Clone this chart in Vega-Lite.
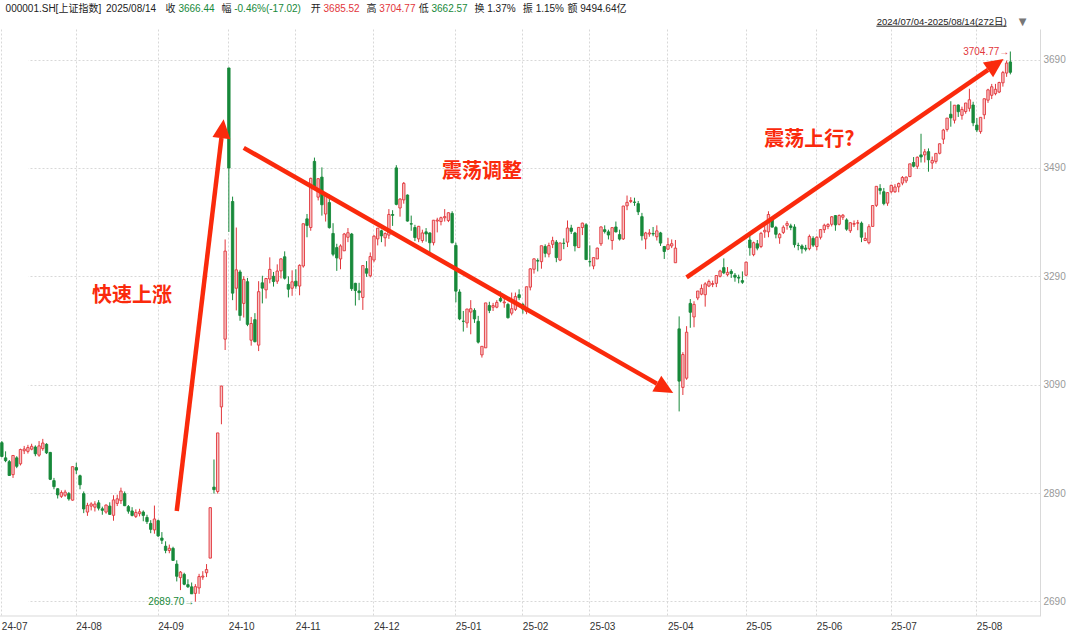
{
"$schema":"https://vega.github.io/schema/vega-lite/v6.json",
"width":1040,"height":587,
"autosize":{"type":"none"},
"padding":{"left":0,"top":29,"right":40,"bottom":14},
"background":"#ffffff",
"config":{"font":"Liberation Sans, Noto Sans CJK SC, sans-serif","view":{"stroke":null}},
"datasets":{
"k":[
{"d":"2024-07-04","o":2983,"h":2986,"l":2956,"c":2957.6},{"d":"2024-07-05","o":2955,"h":2967,"l":2947,"c":2949.9},{"d":"2024-07-08","o":2948,"h":2951,"l":2922,"c":2922.5},{"d":"2024-07-09","o":2924,"h":2960,"l":2918,"c":2959.4},{"d":"2024-07-10","o":2955,"h":2958,"l":2936,"c":2939.4},{"d":"2024-07-11","o":2944,"h":2972,"l":2941,"c":2970.4},{"d":"2024-07-12","o":2968,"h":2977,"l":2962,"c":2971.3},{"d":"2024-07-15","o":2967,"h":2979,"l":2963,"c":2974.0},{"d":"2024-07-16","o":2971,"h":2981,"l":2969,"c":2976.3},{"d":"2024-07-17","o":2975,"h":2978,"l":2958,"c":2962.5},{"d":"2024-07-18","o":2960,"h":2986,"l":2957,"c":2977.1},{"d":"2024-07-19","o":2972,"h":2990,"l":2968,"c":2982.3},{"d":"2024-07-22","o":2980,"h":2982,"l":2962,"c":2964.2},{"d":"2024-07-23","o":2965,"h":2966,"l":2914,"c":2915.4},{"d":"2024-07-24","o":2913,"h":2918,"l":2897,"c":2901.9},{"d":"2024-07-25","o":2898,"h":2899,"l":2880,"c":2886.7},{"d":"2024-07-26","o":2884,"h":2895,"l":2881,"c":2890.9},{"d":"2024-07-29","o":2886,"h":2896,"l":2883,"c":2891.8},{"d":"2024-07-30","o":2889,"h":2892,"l":2876,"c":2879.3},{"d":"2024-07-31","o":2877,"h":2939,"l":2876,"c":2938.8},
{"d":"2024-08-01","o":2937,"h":2946,"l":2925,"c":2932.4},{"d":"2024-08-02","o":2922,"h":2924,"l":2897,"c":2905.3},{"d":"2024-08-05","o":2889,"h":2893,"l":2853,"c":2860.7},{"d":"2024-08-06","o":2855,"h":2872,"l":2848,"c":2867.3},{"d":"2024-08-07","o":2866,"h":2873,"l":2858,"c":2869.9},{"d":"2024-08-08","o":2864,"h":2875,"l":2856,"c":2869.8},{"d":"2024-08-09","o":2872,"h":2877,"l":2858,"c":2862.2},{"d":"2024-08-12","o":2861,"h":2865,"l":2850,"c":2858.2},{"d":"2024-08-13","o":2855,"h":2869,"l":2852,"c":2867.9},{"d":"2024-08-14","o":2866,"h":2873,"l":2850,"c":2850.7},{"d":"2024-08-15","o":2849,"h":2886,"l":2839,"c":2877.4},{"d":"2024-08-16","o":2871,"h":2887,"l":2866,"c":2879.4},{"d":"2024-08-19","o":2876,"h":2900,"l":2870,"c":2893.7},{"d":"2024-08-20","o":2889,"h":2893,"l":2866,"c":2866.7},{"d":"2024-08-21","o":2865,"h":2868,"l":2852,"c":2856.6},{"d":"2024-08-22","o":2857,"h":2864,"l":2847,"c":2848.8},{"d":"2024-08-23","o":2847,"h":2860,"l":2844,"c":2854.4},{"d":"2024-08-26","o":2852,"h":2861,"l":2847,"c":2855.5},{"d":"2024-08-27","o":2855,"h":2858,"l":2838,"c":2848.8},{"d":"2024-08-28","o":2845,"h":2850,"l":2833,"c":2837.4},{"d":"2024-08-29","o":2834,"h":2840,"l":2816,"c":2823.1},{"d":"2024-08-30","o":2822,"h":2867,"l":2815,"c":2842.2},
{"d":"2024-09-02","o":2839,"h":2841,"l":2809,"c":2811.0},{"d":"2024-09-03","o":2807,"h":2818,"l":2796,"c":2802.9},{"d":"2024-09-04","o":2792,"h":2801,"l":2779,"c":2784.3},{"d":"2024-09-05","o":2784,"h":2795,"l":2779,"c":2788.2},{"d":"2024-09-06","o":2788,"h":2791,"l":2765,"c":2765.8},{"d":"2024-09-09","o":2759,"h":2766,"l":2727,"c":2736.5},{"d":"2024-09-10","o":2734,"h":2746,"l":2711,"c":2744.2},{"d":"2024-09-11","o":2740,"h":2743,"l":2720,"c":2721.8},{"d":"2024-09-12","o":2721,"h":2731,"l":2715,"c":2717.1},{"d":"2024-09-13","o":2717,"h":2725,"l":2704,"c":2704.1},{"d":"2024-09-18","o":2705,"h":2722,"l":2689.7,"c":2717.3},{"d":"2024-09-19","o":2715,"h":2741,"l":2704,"c":2736.0},{"d":"2024-09-20","o":2735,"h":2746,"l":2730,"c":2736.8},{"d":"2024-09-23","o":2743,"h":2759,"l":2735,"c":2748.9},{"d":"2024-09-24","o":2770,"h":2864,"l":2770,"c":2863.1},{"d":"2024-09-25","o":2901,"h":2952,"l":2889,"c":2896.3},{"d":"2024-09-26","o":2893,"h":3001,"l":2889,"c":3000.95},{"d":"2024-09-27","o":3049,"h":3088,"l":3017,"c":3087.5},{"d":"2024-09-30","o":3174,"h":3358,"l":3154,"c":3336.5},
{"d":"2024-10-08","o":3674.4,"h":3674.4,"l":3371.8,"c":3489.8},{"d":"2024-10-09","o":3428,"h":3437,"l":3246,"c":3258.9},{"d":"2024-10-10","o":3268,"h":3380,"l":3227,"c":3301.9},{"d":"2024-10-11","o":3298,"h":3302,"l":3208,"c":3217.7},{"d":"2024-10-14","o":3240,"h":3290,"l":3214,"c":3284.3},{"d":"2024-10-15","o":3280,"h":3287,"l":3198,"c":3201.3},{"d":"2024-10-16","o":3172,"h":3215,"l":3162,"c":3202.9},{"d":"2024-10-17","o":3210,"h":3222,"l":3168,"c":3169.4},{"d":"2024-10-18","o":3163,"h":3281,"l":3152,"c":3261.6},{"d":"2024-10-21","o":3278,"h":3291,"l":3240,"c":3268.1},{"d":"2024-10-22","o":3265,"h":3287,"l":3249,"c":3285.9},{"d":"2024-10-23","o":3285,"h":3325,"l":3277,"c":3302.8},{"d":"2024-10-24","o":3290,"h":3298,"l":3271,"c":3280.3},{"d":"2024-10-25","o":3281,"h":3312,"l":3276,"c":3299.7},{"d":"2024-10-28","o":3300,"h":3323,"l":3286,"c":3322.2},{"d":"2024-10-29","o":3326,"h":3336,"l":3284,"c":3286.4},{"d":"2024-10-30","o":3275,"h":3290,"l":3251,"c":3266.2},{"d":"2024-10-31","o":3268,"h":3301,"l":3254,"c":3279.8},
{"d":"2024-11-01","o":3281,"h":3303,"l":3267,"c":3272.0},{"d":"2024-11-04","o":3272,"h":3312,"l":3255,"c":3310.2},{"d":"2024-11-05","o":3309,"h":3387,"l":3306,"c":3387.0},{"d":"2024-11-06","o":3396,"h":3405,"l":3362,"c":3383.8},{"d":"2024-11-07","o":3380,"h":3472,"l":3374,"c":3470.7},{"d":"2024-11-08","o":3502,"h":3509,"l":3450,"c":3452.3},{"d":"2024-11-11","o":3436,"h":3471,"l":3430,"c":3470.1},{"d":"2024-11-12","o":3473,"h":3491,"l":3402,"c":3422.0},{"d":"2024-11-13","o":3405,"h":3441,"l":3391,"c":3439.3},{"d":"2024-11-14","o":3426,"h":3441,"l":3378,"c":3379.8},{"d":"2024-11-15","o":3369,"h":3388,"l":3327,"c":3330.7},{"d":"2024-11-18","o":3343,"h":3350,"l":3300,"c":3323.9},{"d":"2024-11-19","o":3322,"h":3349,"l":3303,"c":3346.0},{"d":"2024-11-20","o":3337,"h":3370,"l":3337,"c":3368.0},{"d":"2024-11-21","o":3362,"h":3379,"l":3353,"c":3370.4},{"d":"2024-11-22","o":3368,"h":3370,"l":3263,"c":3267.2},{"d":"2024-11-25","o":3277,"h":3278,"l":3236,"c":3263.8},{"d":"2024-11-26","o":3263,"h":3278,"l":3246,"c":3259.8},{"d":"2024-11-27","o":3251,"h":3309,"l":3228,"c":3309.8},{"d":"2024-11-28","o":3304,"h":3318,"l":3289,"c":3295.7},{"d":"2024-11-29","o":3291,"h":3334,"l":3288,"c":3326.5},
{"d":"2024-12-02","o":3320,"h":3366,"l":3316,"c":3364.0},{"d":"2024-12-03","o":3359,"h":3379,"l":3347,"c":3378.8},{"d":"2024-12-04","o":3374,"h":3376,"l":3353,"c":3364.6},{"d":"2024-12-05","o":3361,"h":3371,"l":3345,"c":3368.9},{"d":"2024-12-06","o":3366,"h":3414,"l":3359,"c":3404.1},{"d":"2024-12-09","o":3404,"h":3412,"l":3383,"c":3402.5},{"d":"2024-12-10","o":3490,"h":3495,"l":3421,"c":3422.7},{"d":"2024-12-11","o":3416,"h":3434,"l":3400,"c":3432.5},{"d":"2024-12-12","o":3431,"h":3464,"l":3424,"c":3461.5},{"d":"2024-12-13","o":3440,"h":3441,"l":3391,"c":3391.9},{"d":"2024-12-16","o":3387,"h":3402,"l":3374,"c":3386.3},{"d":"2024-12-17","o":3380,"h":3385,"l":3355,"c":3361.5},{"d":"2024-12-18","o":3359,"h":3383,"l":3353,"c":3382.2},{"d":"2024-12-19","o":3356,"h":3376,"l":3352,"c":3370.0},{"d":"2024-12-20","o":3372,"h":3379,"l":3354,"c":3368.1},{"d":"2024-12-23","o":3370,"h":3371,"l":3330,"c":3351.9},{"d":"2024-12-24","o":3352,"h":3394,"l":3347,"c":3393.5},{"d":"2024-12-25","o":3392,"h":3398,"l":3371,"c":3393.8},{"d":"2024-12-26","o":3391,"h":3400,"l":3384,"c":3398.1},{"d":"2024-12-27","o":3398,"h":3414,"l":3391,"c":3400.1},{"d":"2024-12-30","o":3393,"h":3408,"l":3390,"c":3407.3},{"d":"2024-12-31","o":3406,"h":3410,"l":3351,"c":3351.8},
{"d":"2025-01-02","o":3347,"h":3352,"l":3242,"c":3262.6},{"d":"2025-01-03","o":3261,"h":3266,"l":3209,"c":3211.4},{"d":"2025-01-06","o":3207,"h":3226,"l":3188,"c":3206.9},{"d":"2025-01-07","o":3204,"h":3230,"l":3195,"c":3229.6},{"d":"2025-01-08","o":3224,"h":3246,"l":3183,"c":3230.2},{"d":"2025-01-09","o":3227,"h":3231,"l":3204,"c":3211.4},{"d":"2025-01-10","o":3207,"h":3217,"l":3166,"c":3168.5},{"d":"2025-01-13","o":3145,"h":3161,"l":3140,"c":3160.8},{"d":"2025-01-14","o":3158,"h":3241,"l":3158,"c":3240.9},{"d":"2025-01-15","o":3236,"h":3243,"l":3222,"c":3227.1},{"d":"2025-01-16","o":3233,"h":3241,"l":3226,"c":3236.0},{"d":"2025-01-17","o":3233,"h":3246,"l":3231,"c":3241.8},{"d":"2025-01-20","o":3249,"h":3262,"l":3242,"c":3244.4},{"d":"2025-01-21","o":3241,"h":3251,"l":3232,"c":3242.6},{"d":"2025-01-22","o":3238,"h":3241,"l":3212,"c":3213.6},{"d":"2025-01-23","o":3222,"h":3260,"l":3218,"c":3230.2},{"d":"2025-01-24","o":3229,"h":3260,"l":3226,"c":3252.6},{"d":"2025-01-27","o":3256,"h":3266,"l":3246,"c":3250.6},
{"d":"2025-02-05","o":3238,"h":3241,"l":3221,"c":3229.5},{"d":"2025-02-06","o":3225,"h":3271,"l":3220,"c":3270.7},{"d":"2025-02-07","o":3270,"h":3305,"l":3264,"c":3303.7},{"d":"2025-02-10","o":3303,"h":3323,"l":3295,"c":3322.2},{"d":"2025-02-11","o":3319,"h":3323,"l":3299,"c":3318.1},{"d":"2025-02-12","o":3317,"h":3346,"l":3304,"c":3346.4},{"d":"2025-02-13","o":3345,"h":3349,"l":3325,"c":3332.5},{"d":"2025-02-14","o":3331,"h":3352,"l":3325,"c":3346.7},{"d":"2025-02-17","o":3349,"h":3363,"l":3342,"c":3355.8},{"d":"2025-02-18","o":3353,"h":3357,"l":3316,"c":3324.5},{"d":"2025-02-19","o":3320,"h":3352,"l":3318,"c":3351.5},{"d":"2025-02-20","o":3351,"h":3360,"l":3340,"c":3350.8},{"d":"2025-02-21","o":3353,"h":3393,"l":3344,"c":3379.1},{"d":"2025-02-24","o":3379,"h":3385,"l":3368,"c":3373.0},{"d":"2025-02-25","o":3370,"h":3372,"l":3336,"c":3346.0},{"d":"2025-02-26","o":3343,"h":3381,"l":3343,"c":3380.2},{"d":"2025-02-27","o":3380,"h":3389,"l":3366,"c":3388.1},{"d":"2025-02-28","o":3385,"h":3388,"l":3320,"c":3320.9},
{"d":"2025-03-03","o":3317,"h":3347,"l":3308,"c":3316.9},{"d":"2025-03-04","o":3309,"h":3325,"l":3303,"c":3324.5},{"d":"2025-03-05","o":3322,"h":3343,"l":3322,"c":3342.0},{"d":"2025-03-06","o":3350,"h":3382,"l":3346,"c":3381.1},{"d":"2025-03-07","o":3376,"h":3384,"l":3369,"c":3372.6},{"d":"2025-03-10","o":3372,"h":3376,"l":3358,"c":3366.2},{"d":"2025-03-11","o":3356,"h":3380,"l":3339,"c":3379.8},{"d":"2025-03-12","o":3381,"h":3391,"l":3371,"c":3371.9},{"d":"2025-03-13","o":3367,"h":3376,"l":3356,"c":3358.7},{"d":"2025-03-14","o":3359,"h":3420,"l":3357,"c":3419.6},{"d":"2025-03-17","o":3420,"h":3439,"l":3412,"c":3426.4},{"d":"2025-03-18","o":3428,"h":3436,"l":3425,"c":3429.8},{"d":"2025-03-19","o":3427,"h":3435,"l":3420,"c":3426.4},{"d":"2025-03-20","o":3424,"h":3429,"l":3403,"c":3408.9},{"d":"2025-03-21","o":3400,"h":3407,"l":3356,"c":3364.8},{"d":"2025-03-24","o":3359,"h":3372,"l":3340,"c":3370.0},{"d":"2025-03-25","o":3368,"h":3377,"l":3363,"c":3370.0},{"d":"2025-03-26","o":3369,"h":3381,"l":3364,"c":3368.1},{"d":"2025-03-27","o":3363,"h":3384,"l":3356,"c":3373.8},{"d":"2025-03-28","o":3370,"h":3372,"l":3346,"c":3351.3},{"d":"2025-03-31","o":3345,"h":3346,"l":3322,"c":3335.8},
{"d":"2025-04-01","o":3340,"h":3361,"l":3339,"c":3348.4},{"d":"2025-04-02","o":3346,"h":3358,"l":3342,"c":3350.1},{"d":"2025-04-03","o":3315,"h":3357,"l":3315,"c":3342.0},{"d":"2025-04-07","o":3193,"h":3216,"l":3040.7,"c":3096.6},{"d":"2025-04-08","o":3085,"h":3150,"l":3071,"c":3145.6},{"d":"2025-04-09","o":3102,"h":3198,"l":3099,"c":3186.8},{"d":"2025-04-10","o":3240,"h":3248,"l":3195,"c":3223.6},{"d":"2025-04-11","o":3215,"h":3244,"l":3196,"c":3238.2},{"d":"2025-04-14","o":3250,"h":3263,"l":3246,"c":3262.8},{"d":"2025-04-15","o":3257,"h":3275,"l":3255,"c":3267.7},{"d":"2025-04-16","o":3256,"h":3279,"l":3234,"c":3276.0},{"d":"2025-04-17","o":3272,"h":3284,"l":3270,"c":3280.3},{"d":"2025-04-18","o":3275,"h":3282,"l":3270,"c":3276.7},{"d":"2025-04-21","o":3277,"h":3292,"l":3270,"c":3291.4},{"d":"2025-04-22","o":3290,"h":3302,"l":3288,"c":3299.8},{"d":"2025-04-23","o":3306,"h":3323,"l":3294,"c":3296.4},{"d":"2025-04-24","o":3293,"h":3307,"l":3290,"c":3297.3},{"d":"2025-04-25","o":3299,"h":3303,"l":3287,"c":3295.1},{"d":"2025-04-28","o":3292,"h":3296,"l":3280,"c":3288.4},{"d":"2025-04-29","o":3288,"h":3293,"l":3277,"c":3286.7},{"d":"2025-04-30","o":3282,"h":3299,"l":3276,"c":3279.0},
{"d":"2025-05-06","o":3292,"h":3317,"l":3290,"c":3316.1},{"d":"2025-05-07","o":3357,"h":3366,"l":3328,"c":3342.7},{"d":"2025-05-08","o":3330,"h":3354,"l":3327,"c":3352.0},{"d":"2025-05-09","o":3350,"h":3357,"l":3338,"c":3342.0},{"d":"2025-05-12","o":3345,"h":3372,"l":3342,"c":3369.2},{"d":"2025-05-13","o":3372,"h":3385,"l":3361,"c":3374.9},{"d":"2025-05-14","o":3372,"h":3410,"l":3362,"c":3404.0},{"d":"2025-05-15","o":3396,"h":3400,"l":3380,"c":3380.8},{"d":"2025-05-16","o":3380,"h":3383,"l":3360,"c":3367.5},{"d":"2025-05-19","o":3361,"h":3370,"l":3350,"c":3367.6},{"d":"2025-05-20","o":3371,"h":3384,"l":3368,"c":3380.5},{"d":"2025-05-21","o":3384,"h":3392,"l":3376,"c":3387.6},{"d":"2025-05-22","o":3383,"h":3387,"l":3375,"c":3380.2},{"d":"2025-05-23","o":3381,"h":3386,"l":3343,"c":3348.4},{"d":"2025-05-26","o":3347,"h":3352,"l":3338,"c":3346.8},{"d":"2025-05-27","o":3346,"h":3349,"l":3332,"c":3340.7},{"d":"2025-05-28","o":3342,"h":3348,"l":3336,"c":3339.9},{"d":"2025-05-29","o":3341,"h":3367,"l":3338,"c":3363.5},{"d":"2025-05-30","o":3360,"h":3364,"l":3344,"c":3347.5},
{"d":"2025-06-03","o":3345,"h":3364,"l":3338,"c":3362.0},{"d":"2025-06-04","o":3362,"h":3377,"l":3358,"c":3376.2},{"d":"2025-06-05","o":3376,"h":3387,"l":3370,"c":3384.1},{"d":"2025-06-06","o":3382,"h":3388,"l":3377,"c":3385.4},{"d":"2025-06-09","o":3386,"h":3401,"l":3382,"c":3399.8},{"d":"2025-06-10","o":3402,"h":3403,"l":3374,"c":3384.8},{"d":"2025-06-11","o":3386,"h":3404,"l":3384,"c":3402.3},{"d":"2025-06-12","o":3399,"h":3405,"l":3394,"c":3402.7},{"d":"2025-06-13","o":3394,"h":3397,"l":3374,"c":3377.0},{"d":"2025-06-16","o":3374,"h":3390,"l":3370,"c":3388.8},{"d":"2025-06-17","o":3386,"h":3393,"l":3381,"c":3387.4},{"d":"2025-06-18","o":3388,"h":3394,"l":3375,"c":3388.8},{"d":"2025-06-19","o":3388,"h":3391,"l":3353,"c":3362.1},{"d":"2025-06-20","o":3356,"h":3371,"l":3355,"c":3359.9},{"d":"2025-06-23","o":3352,"h":3386,"l":3349,"c":3381.6},{"d":"2025-06-24","o":3382,"h":3421,"l":3382,"c":3420.6},{"d":"2025-06-25","o":3421,"h":3456,"l":3418,"c":3456.0},{"d":"2025-06-26","o":3452,"h":3460,"l":3441,"c":3448.5},{"d":"2025-06-27","o":3446,"h":3453,"l":3421,"c":3424.2},{"d":"2025-06-30","o":3425,"h":3445,"l":3420,"c":3444.4},
{"d":"2025-07-01","o":3446,"h":3459,"l":3443,"c":3457.8},{"d":"2025-07-02","o":3446,"h":3460,"l":3444,"c":3454.8},{"d":"2025-07-03","o":3455,"h":3463,"l":3445,"c":3461.2},{"d":"2025-07-04","o":3462,"h":3475,"l":3458,"c":3472.3},{"d":"2025-07-07","o":3466,"h":3474,"l":3462,"c":3473.1},{"d":"2025-07-08","o":3474,"h":3497,"l":3473,"c":3497.5},{"d":"2025-07-09","o":3500,"h":3510,"l":3491,"c":3493.1},{"d":"2025-07-10","o":3493,"h":3511,"l":3488,"c":3509.7},{"d":"2025-07-11","o":3514,"h":3553,"l":3500,"c":3510.2},{"d":"2025-07-14","o":3514,"h":3525,"l":3500,"c":3519.7},{"d":"2025-07-15","o":3520,"h":3526,"l":3483,"c":3505.0},{"d":"2025-07-16","o":3499,"h":3511,"l":3488,"c":3503.8},{"d":"2025-07-17","o":3502,"h":3517,"l":3498,"c":3516.8},{"d":"2025-07-18","o":3517,"h":3535,"l":3515,"c":3534.5},{"d":"2025-07-21","o":3543,"h":3562,"l":3534,"c":3559.8},{"d":"2025-07-22","o":3561,"h":3581,"l":3557,"c":3581.9},{"d":"2025-07-23","o":3589,"h":3613,"l":3566,"c":3582.3},{"d":"2025-07-24","o":3578,"h":3606,"l":3572,"c":3605.7},{"d":"2025-07-25","o":3606,"h":3607,"l":3584,"c":3593.7},{"d":"2025-07-28","o":3587,"h":3603,"l":3579,"c":3597.9},{"d":"2025-07-29","o":3594,"h":3610,"l":3590,"c":3609.7},{"d":"2025-07-30","o":3600,"h":3636,"l":3594,"c":3615.7},{"d":"2025-07-31","o":3606,"h":3612,"l":3567,"c":3573.2},
{"d":"2025-08-01","o":3569,"h":3582,"l":3556,"c":3560.0},{"d":"2025-08-04","o":3557,"h":3583,"l":3553,"c":3583.3},{"d":"2025-08-05","o":3588,"h":3618,"l":3580,"c":3617.6},{"d":"2025-08-06","o":3615,"h":3636,"l":3610,"c":3634.0},{"d":"2025-08-07","o":3624,"h":3645,"l":3617,"c":3639.7},{"d":"2025-08-08","o":3627,"h":3645,"l":3624,"c":3635.1},{"d":"2025-08-11","o":3630,"h":3649,"l":3628,"c":3647.5},{"d":"2025-08-12","o":3647,"h":3669,"l":3640,"c":3665.9},{"d":"2025-08-13","o":3665,"h":3688,"l":3658,"c":3683.5},{"d":"2025-08-14","o":3685.52,"h":3704.77,"l":3662.57,"c":3666.44}
],
"arrows":[
{"arrow":"a1","d":"2024-09-09","v":2857,"end":0},{"arrow":"a1","d":"2024-09-27","v":3545,"end":1},
{"arrow":"a2","d":"2024-10-14","v":3527,"end":0},{"arrow":"a2","d":"2025-03-27","v":3092,"end":1},
{"arrow":"a3","d":"2025-04-09","v":3288,"end":0},{"arrow":"a3","d":"2025-08-06","v":3671,"end":1}
],
"notes":[
{"t":"快速上涨","d":"2024-08-22","v":3253},
{"t":"震荡调整","d":"2025-01-13","v":3482},
{"t":"震荡上行?","d":"2025-05-29","v":3541}
],
"marks":[
{"t":"2689.70→","d":"2024-09-18","v":2689.7,"k":"down"},
{"t":"3704.77→","d":"2025-08-14","v":3704.77,"k":"up"}
],
"range":[{"t":"2024/07/04-2025/08/14(272日)","d":"2025-08-13","d2":"2025-06-25","v":3759,"u":3751.5}],
"header":[
{"t":"000001.SH[上证指数]","val":"","d":"2024-07-05","k":"label","v":3783},
{"t":"2025/08/14","val":"","d":"2024-08-13","k":"label","v":3783},
{"t":"收","val":"3666.44","d":"2024-09-04","k":"down","v":3783},
{"t":"幅","val":"-0.46%(-17.02)","d":"2024-09-27","k":"down","v":3783},
{"t":"开","val":"3685.52","d":"2024-11-07","k":"up","v":3783},
{"t":"高","val":"3704.77","d":"2024-11-28","k":"up","v":3783},
{"t":"低","val":"3662.57","d":"2024-12-18","k":"down","v":3783},
{"t":"换","val":"1.37%","d":"2025-01-09","k":"label","v":3783},
{"t":"振","val":"1.15%","d":"2025-02-05","k":"label","v":3783},
{"t":"额","val":"9494.64亿","d":"2025-02-21","k":"label","v":3783}
],
"base":[{"v":2663.2}]
},
"layer":[
{"data":{"name":"k"},"mark":{"type":"rule","strokeWidth":1},
"encoding":{
"x":{"field":"d","type":"ordinal","sort":"ascending","scale":{"type":"band","range":[0,1012.2],"paddingInner":0,"paddingOuter":0,"round":false},
"axis":{"values":["2024-07-04","2024-08-01","2024-09-02","2024-10-08","2024-11-01","2024-12-02","2025-01-02","2025-02-05","2025-03-03","2025-04-01","2025-05-06","2025-06-03","2025-07-01","2025-08-01"],"labelExpr":"substring(datum.value,2,7)","labelAlign":"left","labelAngle":0,"labelColor":"#333333","labelFontSize":10,"labelPadding":5,"tickSize":0,"domain":false,"grid":true,"gridColor":"#d8d8d8","gridDash":[2,2],"bandPosition":0.5,"title":null,"labelOverlap":false}},
"y":{"field":"l","type":"quantitative","scale":{"domain":[2663.2,3746.3],"nice":false,"zero":false},
"axis":{"orient":"right","values":[2690,2890,3090,3290,3490,3690],"format":"d","labelColor":"#999999","labelFontSize":10,"tickSize":0,"domain":true,"domainColor":"#d9d9d9","labelPadding":3,"grid":true,"gridColor":"#d8d8d8","gridDash":[2,2],"title":null}},
"y2":{"field":"h"},
"color":{"condition":{"test":"datum.c >= datum.o","value":"#e2363b"},"value":"#17893a"}}},
{"data":{"name":"base"},"mark":{"type":"rule","color":"#d9d9d9","strokeWidth":1},
"encoding":{"y":{"field":"v","type":"quantitative"}}},
{"data":{"name":"k"},"mark":{"type":"bar","size":2.4,"strokeWidth":0.9},
"encoding":{
"x":{"field":"d","type":"ordinal"},
"y":{"field":"o","type":"quantitative"},
"y2":{"field":"c"},
"fill":{"condition":{"test":"datum.c >= datum.o","value":"#f7c4c5"},"value":"#17893a"},
"stroke":{"condition":{"test":"datum.c >= datum.o","value":"#e2363b"},"value":"#17893a"}}},
{"data":{"name":"arrows"},"mark":{"type":"line","strokeWidth":4.5,"color":"#fa2a0c","strokeCap":"butt"},
"encoding":{"x":{"field":"d","type":"ordinal"},"y":{"field":"v","type":"quantitative"},"detail":{"field":"arrow"}}},
{"data":{"name":"arrows"},"transform":[{"filter":"datum.arrow === 'a1' && datum.end === 1"}],
"mark":{"type":"point","shape":"M0,-2.1L-1,0L1,0Z","size":324,"filled":true,"opacity":1,"color":"#fa2a0c","angle":6.8,"strokeWidth":0},
"encoding":{"x":{"field":"d","type":"ordinal"},"y":{"field":"v","type":"quantitative"}}},
{"data":{"name":"arrows"},"transform":[{"filter":"datum.arrow === 'a2' && datum.end === 1"}],
"mark":{"type":"point","shape":"M0,-2.1L-1,0L1,0Z","size":324,"filled":true,"opacity":1,"color":"#fa2a0c","angle":119.7,"strokeWidth":0},
"encoding":{"x":{"field":"d","type":"ordinal"},"y":{"field":"v","type":"quantitative"}}},
{"data":{"name":"arrows"},"transform":[{"filter":"datum.arrow === 'a3' && datum.end === 1"}],
"mark":{"type":"point","shape":"M0,-2.1L-1,0L1,0Z","size":324,"filled":true,"opacity":1,"color":"#fa2a0c","angle":55.4,"strokeWidth":0},
"encoding":{"x":{"field":"d","type":"ordinal"},"y":{"field":"v","type":"quantitative"}}},
{"data":{"name":"notes"},"mark":{"type":"text","fontSize":20,"fontWeight":"bold","color":"#fa2a0c","align":"center","baseline":"middle","font":"Noto Sans CJK SC"},
"encoding":{"x":{"field":"d","type":"ordinal"},"y":{"field":"v","type":"quantitative"},"text":{"field":"t"}}},
{"data":{"name":"marks"},"mark":{"type":"text","fontSize":10,"align":"right","baseline":"middle","dx":-1},
"encoding":{"x":{"field":"d","type":"ordinal"},"y":{"field":"v","type":"quantitative"},"text":{"field":"t"},
"color":{"condition":{"test":"datum.k === 'up'","value":"#e2363b"},"value":"#17893a"}}},
{"data":{"name":"range"},"mark":{"type":"text","fontSize":9.5,"align":"right","baseline":"middle","color":"#222222"},
"encoding":{"x":{"field":"d","type":"ordinal"},"y":{"field":"v","type":"quantitative"},"text":{"field":"t"}}},
{"data":{"name":"range"},"mark":{"type":"rule","strokeWidth":1,"color":"#222222"},
"encoding":{"x":{"field":"d2","type":"ordinal"},"x2":{"field":"d"},"y":{"field":"u","type":"quantitative"}}},
{"data":{"name":"range"},"mark":{"type":"text","fontSize":10,"align":"center","baseline":"middle","color":"#777777","dx":16,"font":"DejaVu Sans"},
"encoding":{"x":{"field":"d","type":"ordinal"},"y":{"field":"v","type":"quantitative"},"text":{"value":"▼"}}},
{"data":{"name":"header"},"mark":{"type":"text","fontSize":10,"align":"left","baseline":"middle","color":"#222222"},
"encoding":{"x":{"field":"d","type":"ordinal"},"y":{"field":"v","type":"quantitative"},"text":{"field":"t"}}},
{"data":{"name":"header"},"mark":{"type":"text","fontSize":10,"align":"left","baseline":"middle","dx":12.8},
"encoding":{"x":{"field":"d","type":"ordinal"},"y":{"field":"v","type":"quantitative"},"text":{"field":"val"},
"color":{"field":"k","type":"nominal","scale":{"domain":["label","up","down"],"range":["#222222","#e2363b","#17893a"]},"legend":null}}}
]
}
